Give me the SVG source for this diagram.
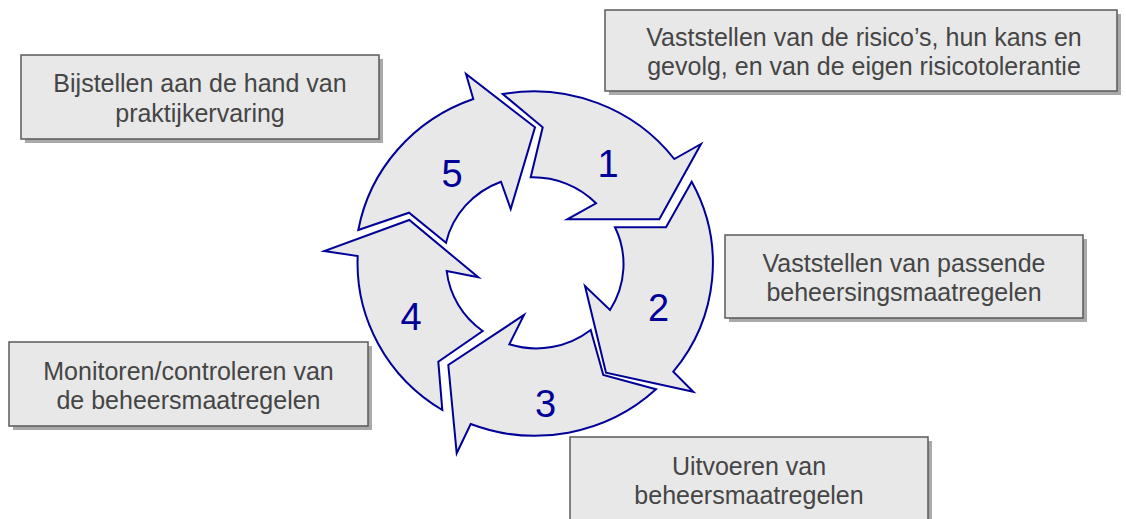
<svg xmlns="http://www.w3.org/2000/svg" width="1126" height="519" viewBox="0 0 1126 519">
<style>
.shadow{fill:#a9a9a9;}
.box{fill:#e8e8e8;stroke:#595959;stroke-width:1.5;}
.btxt{font-family:"Liberation Sans",Arial,sans-serif;font-size:25px;fill:#454545;text-anchor:middle;}
.arrow{fill:#e8e8e8;stroke:#000099;stroke-width:2;stroke-linejoin:miter;stroke-miterlimit:10;}
.num{font-family:"Liberation Sans",Arial,sans-serif;font-size:38px;fill:#000099;text-anchor:middle;}
</style>
<rect width="1126" height="519" fill="#ffffff"/>
<g id="connectors">
<g id="arrow1">
<path class="arrow" d="M 502.7 94 L 542.7 127.3 L 530.7 177.3 A 88 86 0 0 1 596 203.3 L 567.3 219.3 L 659.3 219.3 L 701 144 L 674.3 159 A 177 172 0 0 0 502.7 94 Z"/>
<text class="num" x="608" y="177">1</text>
</g>
<g id="arrow2">
<path class="arrow" d="M 691.7 181.7 L 666 227.3 L 615 227.3 A 88 86 0 0 1 610 310 L 585 286 L 606 372.7 L 693.3 391.7 L 673.3 371.7 A 177 172 0 0 0 691.7 181.7 Z"/>
<text class="num" x="658.5" y="320.5">2</text>
</g>
<g id="arrow3">
<path class="arrow" d="M 656 389.3 L 603.3 375 L 590.7 330 A 88 86 0 0 1 509.3 344.3 L 524 315 L 448.3 365 L 456.7 453.3 L 470.7 424 A 177 172 0 0 0 656 389.3 Z"/>
<text class="num" x="545.5" y="416.5">3</text>
</g>
<g id="arrow4">
<path class="arrow" d="M 442.3 410 L 438.3 361.7 L 482.7 331 A 88 86 0 0 1 446.7 271 L 478.3 277.3 L 409.3 220 L 324.3 251 L 357.7 256 A 177 172 0 0 0 442.3 410 Z"/>
<text class="num" x="411" y="330">4</text>
</g>
<g id="arrow5">
<path class="arrow" d="M 358.3 230 L 409 212.7 L 446 242.7 A 88 86 0 0 1 501 181.7 L 510.7 209 L 535 127.3 L 466 74 L 473.3 99 A 177 172 0 0 0 358.3 230 Z"/>
<text class="num" x="452" y="186.5">5</text>
</g>
</g>
<g id="box1">
<rect class="shadow" x="609" y="14" width="512" height="81"/>
<rect class="box" x="605" y="10" width="512" height="81"/>
<text class="btxt" x="864" y="45.5">Vaststellen van de risico’s, hun kans en</text>
<text class="btxt" x="864" y="75">gevolg, en van de eigen risicotolerantie</text>
</g>
<g id="box2">
<rect class="shadow" x="729" y="239" width="358" height="83"/>
<rect class="box" x="725" y="235" width="358" height="83"/>
<text class="btxt" x="904" y="271.7">Vaststellen van passende</text>
<text class="btxt" x="904" y="301">beheersingsmaatregelen</text>
</g>
<g id="box3">
<rect class="shadow" x="574" y="441" width="358" height="86"/>
<rect class="box" x="570" y="437" width="358" height="86"/>
<text class="btxt" x="749" y="475">Uitvoeren van</text>
<text class="btxt" x="749" y="504">beheersmaatregelen</text>
</g>
<g id="box4">
<rect class="shadow" x="13" y="346" width="359" height="84"/>
<rect class="box" x="9" y="342" width="359" height="84"/>
<text class="btxt" x="188.5" y="379.5">Monitoren/controleren van</text>
<text class="btxt" x="188.5" y="409">de beheersmaatregelen</text>
</g>
<g id="box5">
<rect class="shadow" x="25" y="59" width="358" height="84"/>
<rect class="box" x="21" y="55" width="358" height="84"/>
<text class="btxt" x="200" y="92">Bijstellen aan de hand van</text>
<text class="btxt" x="200" y="121.5">praktijkervaring</text>
</g>
</svg>
